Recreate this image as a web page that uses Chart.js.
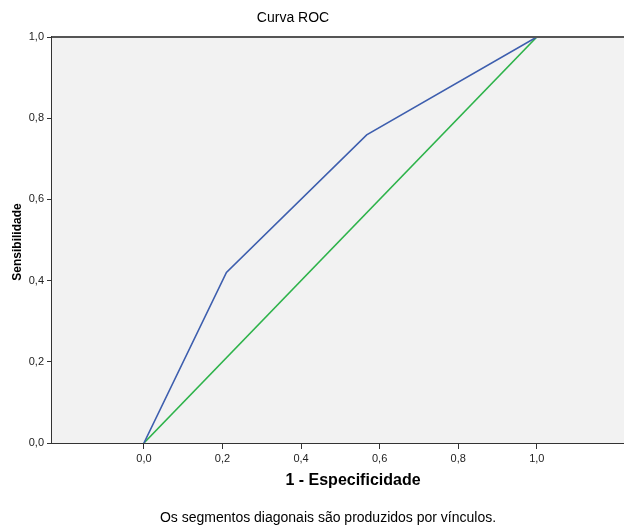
<!DOCTYPE html>
<html>
<head>
<meta charset="utf-8">
<script src="https://cdn.jsdelivr.net/npm/chart.js@4/dist/chart.umd.min.js"></script>
<style>
  html, body { margin: 0; padding: 0; background: #fff; }
  #wrap { width: 624px; height: 526px; }
</style>
</head>
<body>
<div id="wrap"><canvas id="rocChart" width="624" height="526"></canvas></div>
<script>
// ROC curve values
var fpr = [0, 0.21, 0.567, 1];
var tpr = [0, 0.42, 0.759, 1];
var refX = [0, 1];
var refY = [0, 1];
var xTicks = [0, 0.2, 0.4, 0.6, 0.8, 1.0];
var yTicks = [0, 0.2, 0.4, 0.6, 0.8, 1.0];

var FONT = '"Liberation Sans", Arial, sans-serif';

function pts(xs, ys) {
    return xs.map(function (x, i) { return { x: x, y: ys[i] }; });
}
function fmt(v) {
    return Number(v).toFixed(1).replace('.', ',');
}

// background, top border and free text
var decor = {
    id: 'decor',
    beforeDatasetsDraw: function (chart) {
        var a = chart.chartArea, c = chart.ctx;
        c.save();
        c.fillStyle = '#f2f2f2';
        c.fillRect(a.left, a.top, a.right - a.left, a.bottom - a.top);
        c.restore();
    },
    afterDraw: function (chart) {
        var a = chart.chartArea, c = chart.ctx;
        c.save();
        c.strokeStyle = '#555';
        c.lineWidth = 2;
        c.beginPath();
        c.moveTo(a.left, a.top);
        c.lineTo(a.right, a.top);
        c.stroke();

        c.fillStyle = '#000';
        c.textAlign = 'center';
        c.textBaseline = 'middle';
        c.font = '14px ' + FONT;
        c.fillText('Curva ROC', 293, 18);
        c.font = 'bold 16px ' + FONT;
        c.fillText('1 - Especificidade', 353, 481);
        c.font = '14px ' + FONT;
        c.fillText('Os segmentos diagonais são produzidos por vínculos.', 328, 518);

        c.translate(18, 242);
        c.rotate(-Math.PI / 2);
        c.font = 'bold 12px ' + FONT;
        c.fillText('Sensibilidade', 0, 0);
        c.restore();
    }
};

var ctx = document.getElementById('rocChart').getContext('2d');
var rocChart = new Chart(ctx, {
    type: 'scatter',
    data: {
        datasets: [{
            label: 'Curva',
            data: pts(fpr, tpr),
            showLine: true,
            borderColor: '#3d5eae',
            borderWidth: 1.6,
            pointRadius: 0,
            tension: 0
        }, {
            label: 'Referência',
            data: pts(refX, refY),
            showLine: true,
            borderColor: '#2db34a',
            borderWidth: 1.6,
            pointRadius: 0,
            tension: 0
        }]
    },
    options: {
        responsive: false,
        animation: false,
        layout: { padding: { top: 37, right: 0, left: 0, bottom: 0 } },
        plugins: {
            legend: { display: false },
            tooltip: { enabled: false }
        },
        scales: {
            x: {
                type: 'linear',
                min: -0.234,
                max: 1.222,
                afterBuildTicks: function (axis) {
                    axis.ticks = xTicks.map(function (v) { return { value: v }; });
                },
                afterFit: function (axis) { axis.height = 83; },
                grid: {
                    drawOnChartArea: false,
                    drawTicks: true,
                    tickLength: 6,
                    tickColor: '#333'
                },
                border: { color: '#333', width: 2 },
                ticks: {
                    padding: 3,
                    color: '#222',
                    font: { family: FONT, size: 11 },
                    callback: fmt
                }
            },
            y: {
                type: 'linear',
                min: 0,
                max: 1,
                afterBuildTicks: function (axis) {
                    axis.ticks = yTicks.map(function (v) { return { value: v }; });
                },
                afterFit: function (axis) { axis.width = 52; },
                grid: {
                    drawOnChartArea: false,
                    drawTicks: true,
                    tickLength: 5,
                    tickColor: '#333'
                },
                border: { color: '#333', width: 2 },
                ticks: {
                    padding: 3,
                    color: '#222',
                    font: { family: FONT, size: 11 },
                    callback: fmt
                }
            }
        }
    },
    plugins: [decor]
});
</script>
</body>
</html>
